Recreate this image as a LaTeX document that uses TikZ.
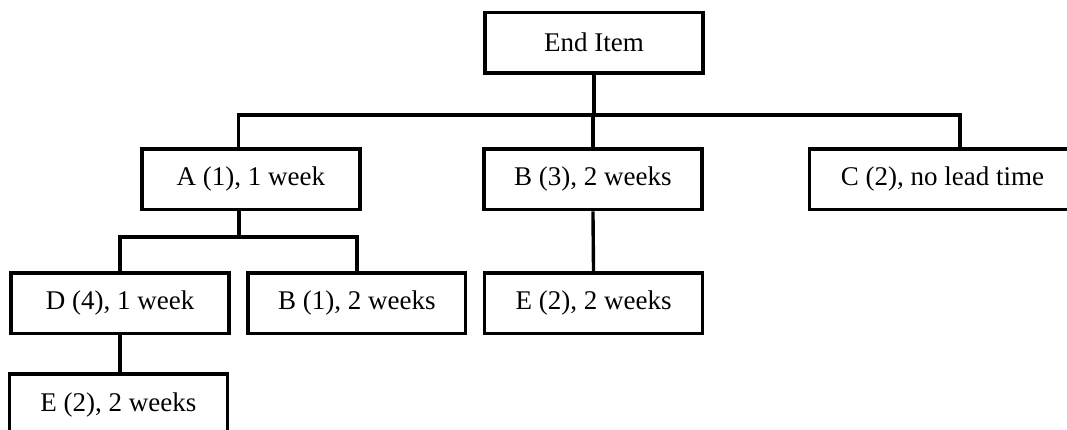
\documentclass[tikz,border=0pt]{standalone}
\usepackage{fontspec}
\setmainfont{Liberation Serif}
\usepackage{tikz}

\begin{document}
\begin{tikzpicture}[
      font=\fontsize{13.5}{16}\selectfont,
      box/.style={
        draw=black,
        line width=1.7pt,
        align=center,
        inner sep=0pt,
        minimum width=38.3mm,
        minimum height=10.7mm
      },
      wide/.style={
        box,
        minimum width=46.6mm
      },
      link/.style={line width=1.7pt, draw=black}
    ]
    \useasboundingbox (0,0) rectangle (18.75,-7.556);
    \clip (0,0) rectangle (18.75,-7.556);
    
    \node[box] (end) at (10.44,-0.75)
    {End Item};
    
    \node[box] (partA) at (4.41,-3.15)
    {A (1), 1 week};
    
    \node[box] (partB) at (10.42,-3.15)
    {B (3), 2 weeks};
    
    \node[wide] (partC) at (16.56,-3.15)
    {C (2), no lead time};
    
    \node[box] (partD) at (2.11,-5.33)
    {D (4), 1 week};
    
    \node[box] (partBB) at (6.27,-5.33)
    {B (1), 2 weeks};
    
    \node[box] (partE) at (10.43,-5.33)
    {E (2), 2 weeks};
    
    \node[box] (partEE) at (2.08,-7.11)
    {E (2), 2 weeks};
    
    \coordinate (hubTop) at (10.42,-2.02);
    \coordinate (hubA) at (4.2,-4.165);
    
    \draw[link] (end.south) -- (end.south |- hubTop);
    \draw[link] ([xshift=-0.22cm]partA.north) |- (hubTop) -| ([xshift=0.31cm]partC.north);
    \draw[link] (partB.north) -- (partB.north |- hubTop);
    \draw[link] ([xshift=-0.21cm]partA.south) -- (hubA);
    \draw[link] (partD.north) |- (hubA) -| (partBB.north);
    \draw[link] (partB.south) -- (partE.north);
    \draw[link] (partD.south) -- (partD.south |- partEE.north);
    \end{tikzpicture}
\end{document}
